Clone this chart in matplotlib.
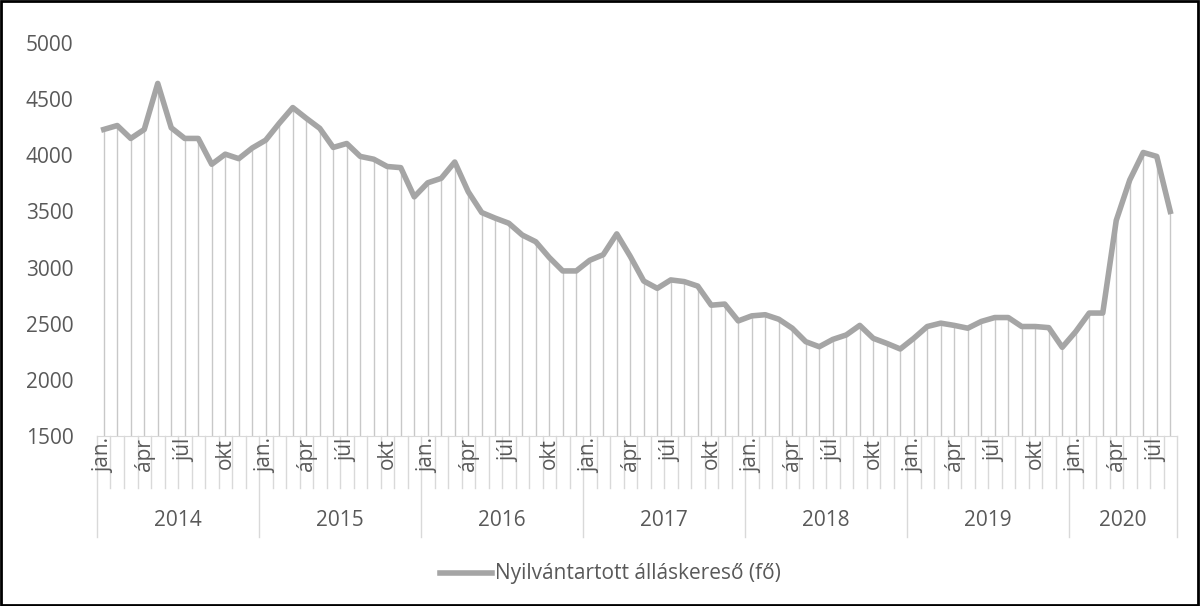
import numpy as np
import matplotlib.pyplot as plt
from matplotlib.lines import Line2D
from matplotlib.patches import Rectangle

plt.rcParams['font.family'] = ['Open Sans', 'DejaVu Sans']

# monthly values, jan 2014 - aug 2020
years = ['2014', '2015', '2016', '2017', '2018', '2019', '2020']
months_per_year = [12, 12, 12, 12, 12, 12, 8]
month_labels = {0: 'jan.', 3: 'ápr', 6: 'júl', 9: 'okt'}
values = [
    4230, 4265, 4150, 4230, 4640, 4245, 4150, 4150, 3920, 4010, 3970, 4065,  # 2014
    4135, 4285, 4425, 4330, 4240, 4070, 4105, 3990, 3965, 3900, 3890, 3630,  # 2015
    3755, 3795, 3940, 3675, 3490, 3440, 3395, 3290, 3230, 3090, 2970, 2970,  # 2016
    3065, 3115, 3300, 3100, 2880, 2815, 2890, 2875, 2835, 2665, 2675, 2525,  # 2017
    2570, 2580, 2540, 2460, 2340, 2295, 2360, 2400, 2485, 2370, 2325, 2275,  # 2018
    2370, 2475, 2505, 2485, 2460, 2520, 2555, 2555, 2475, 2475, 2465, 2290,  # 2019
    2430, 2595, 2595, 3420, 3780, 4025, 3990, 3500,                          # 2020
]
series_name = 'Nyilvántartott álláskereső (fő)'

line_col = '#a5a5a5'
text_col = '#595959'
grid_col = '#d9d9d9'
fs = 15

W, H = 1200, 606
fig = plt.figure(figsize=(W / 100, H / 100), dpi=100)
ax = fig.add_axes([97 / W, 1 - 436 / H, (1177 - 97) / W, (436 - 43) / H])

x = np.arange(len(values))
ax.vlines(x, 1500, values, color='#c8c8c8', lw=1)
ax.plot(x, values, color=line_col, lw=4, solid_joinstyle='round')

ax.set_xlim(-0.5, len(values) - 0.5)
ax.set_ylim(1500, 5000)
ax.set_yticks(np.arange(1500, 5001, 500))
ax.tick_params(axis='y', length=0, labelsize=fs, colors=text_col, pad=17)
ax.set_xticks([])
for s in ['top', 'right', 'left']:
    ax.spines[s].set_visible(False)
ax.spines['bottom'].set_color(grid_col)

# two-level category axis
tr = ax.get_xaxis_transform()
row1 = -0.132
row2 = -0.257
start = 0
for yr, n in zip(years, months_per_year):
    for m in range(n):
        i = start + m
        if m > 0:
            ax.plot([i - 0.5, i - 0.5], [0, row1], transform=tr, color=grid_col,
                    lw=1, clip_on=False)
        if m in month_labels:
            ax.text(i, -0.006, month_labels[m], transform=tr, rotation=90,
                    ha='center', va='top', fontsize=fs, color=text_col)
    ax.plot([start - 0.5, start - 0.5], [0, row2], transform=tr, color=grid_col,
            lw=1, clip_on=False)
    ax.text(start + n / 2 - 0.5, -0.216, yr, transform=tr, ha='center',
            va='center', fontsize=fs, color=text_col)
    start += n
ax.plot([start - 0.5, start - 0.5], [0, row2], transform=tr, color=grid_col,
        lw=1, clip_on=False)

# legend
fig.lines.append(Line2D([440 / W, 492 / W], [1 - 573 / H] * 2, color=line_col, lw=4,
                        transform=fig.transFigure))
fig.text(495 / W, 1 - 573 / H, series_name, ha='left', va='center',
         fontsize=fs, color=text_col)

# outer frame
fig.patches.append(Rectangle((0.001, 0.001), 0.997, 0.997, fill=False,
                             edgecolor='black', lw=2, transform=fig.transFigure))

fig.savefig('out.png', dpi=100)
